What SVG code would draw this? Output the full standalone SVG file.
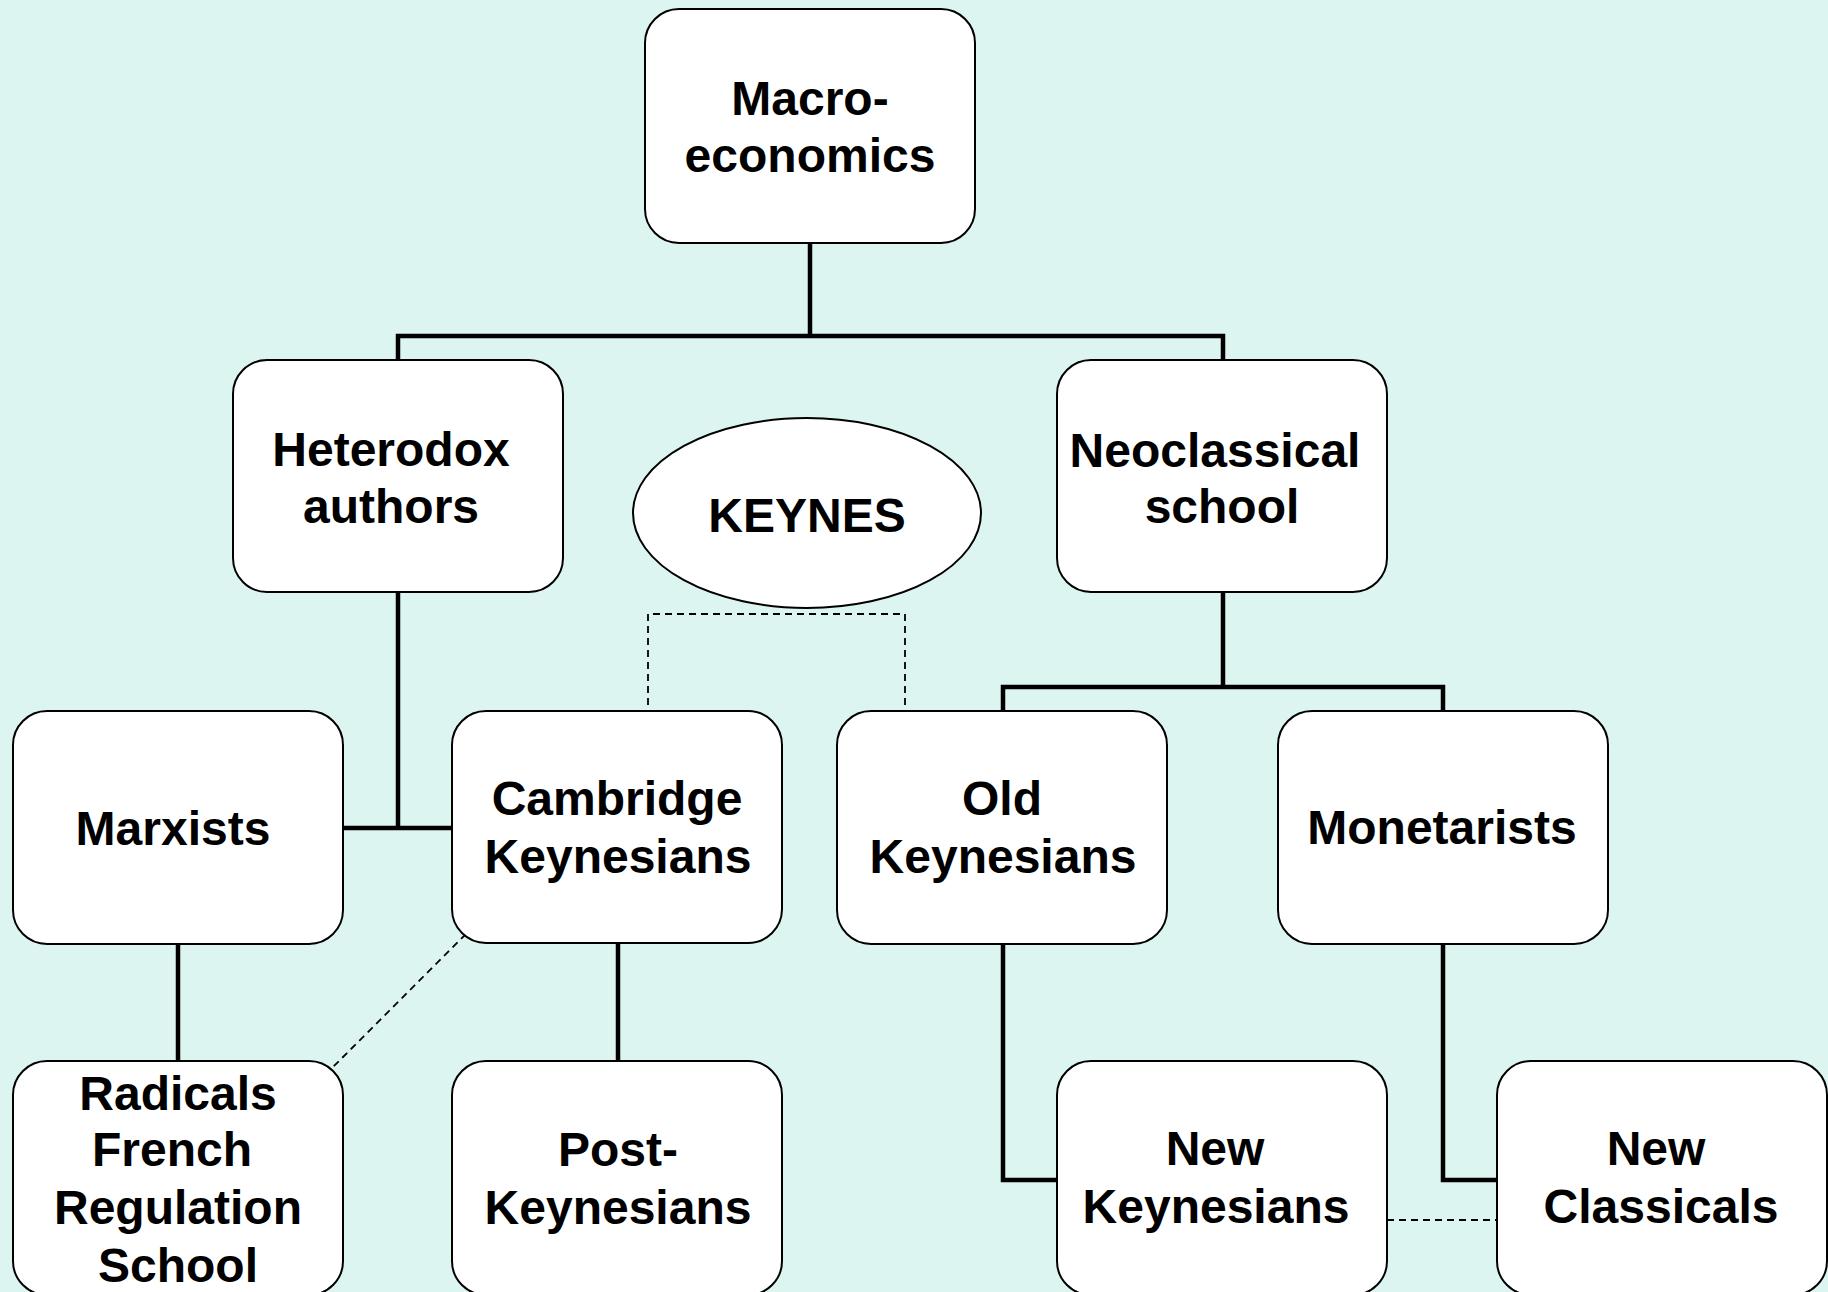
<svg xmlns="http://www.w3.org/2000/svg" width="1828" height="1292" viewBox="0 0 1828 1292">
<style>
.box{fill:#fff;stroke:#000;stroke-width:2}
.t{font-family:"Liberation Sans",Arial,sans-serif;font-weight:bold;font-size:48px;text-anchor:middle;fill:#000}
.c{fill:none;stroke:#000;stroke-width:4.5}
.d{fill:none;stroke:#000;stroke-width:1.8;stroke-dasharray:7,5}
</style>
<rect x="0" y="0" width="1828" height="1292" fill="#DDF5F1"/>
<g id="connectors">
<polyline class="c" points="810,243 810,336"/>
<polyline class="c" points="398,360 398,336 1223,336 1223,360"/>
<polyline class="c" points="398,592 398,828"/>
<polyline class="c" points="343,828 452,828"/>
<polyline class="c" points="1223,592 1223,687"/>
<polyline class="c" points="1003,711 1003,687 1443,687 1443,711"/>
<polyline class="c" points="178,944 178,1061"/>
<polyline class="c" points="618,943 618,1061"/>
<polyline class="c" points="1003,944 1003,1180 1057,1180"/>
<polyline class="c" points="1443,944 1443,1180 1497,1180"/>
<polyline class="d" points="648,705 648,614 905,614 905,705"/>
<line class="d" x1="466" y1="934" x2="332" y2="1068"/>
<line class="d" x1="1387" y1="1220" x2="1497" y2="1220"/>
</g>
<g id="macro"><rect class="box" x="645" y="9" width="330" height="234" rx="34"/>
<text class="t" x="810" y="115">Macro-</text><text class="t" x="810" y="172">economics</text></g>
<g id="heterodox"><rect class="box" x="233" y="360" width="330" height="232" rx="34"/>
<text class="t" x="391" y="466">Heterodox</text><text class="t" x="391" y="523">authors</text></g>
<g id="keynes"><ellipse class="box" cx="807" cy="513" rx="174" ry="95"/>
<text class="t" x="807" y="532">KEYNES</text></g>
<g id="neoclassical"><rect class="box" x="1057" y="360" width="330" height="232" rx="34"/>
<text class="t" x="1215" y="467">Neoclassical</text><text class="t" x="1222" y="523">school</text></g>
<g id="marxists"><rect class="box" x="13" y="711" width="330" height="233" rx="34"/>
<text class="t" x="173" y="845">Marxists</text></g>
<g id="cambridge"><rect class="box" x="452" y="711" width="330" height="232" rx="34"/>
<text class="t" x="617" y="815">Cambridge</text><text class="t" x="618" y="873">Keynesians</text></g>
<g id="oldkeynesians"><rect class="box" x="837" y="711" width="330" height="233" rx="34"/>
<text class="t" x="1002" y="815">Old</text><text class="t" x="1003" y="873">Keynesians</text></g>
<g id="monetarists"><rect class="box" x="1278" y="711" width="330" height="233" rx="34"/>
<text class="t" x="1442" y="844">Monetarists</text></g>
<g id="radicals"><rect class="box" x="13" y="1061" width="330" height="234" rx="34"/>
<text class="t" x="178" y="1110">Radicals</text><text class="t" x="172" y="1166">French</text><text class="t" x="178" y="1224">Regulation</text><text class="t" x="178" y="1282">School</text></g>
<g id="postkeynesians"><rect class="box" x="452" y="1061" width="330" height="234" rx="34"/>
<text class="t" x="618" y="1166">Post-</text><text class="t" x="618" y="1224">Keynesians</text></g>
<g id="newkeynesians"><rect class="box" x="1057" y="1061" width="330" height="234" rx="34"/>
<text class="t" x="1215" y="1165">New</text><text class="t" x="1216" y="1223">Keynesians</text></g>
<g id="newclassicals"><rect class="box" x="1497" y="1061" width="330" height="234" rx="34"/>
<text class="t" x="1656" y="1165">New</text><text class="t" x="1661" y="1223">Classicals</text></g>
</svg>
